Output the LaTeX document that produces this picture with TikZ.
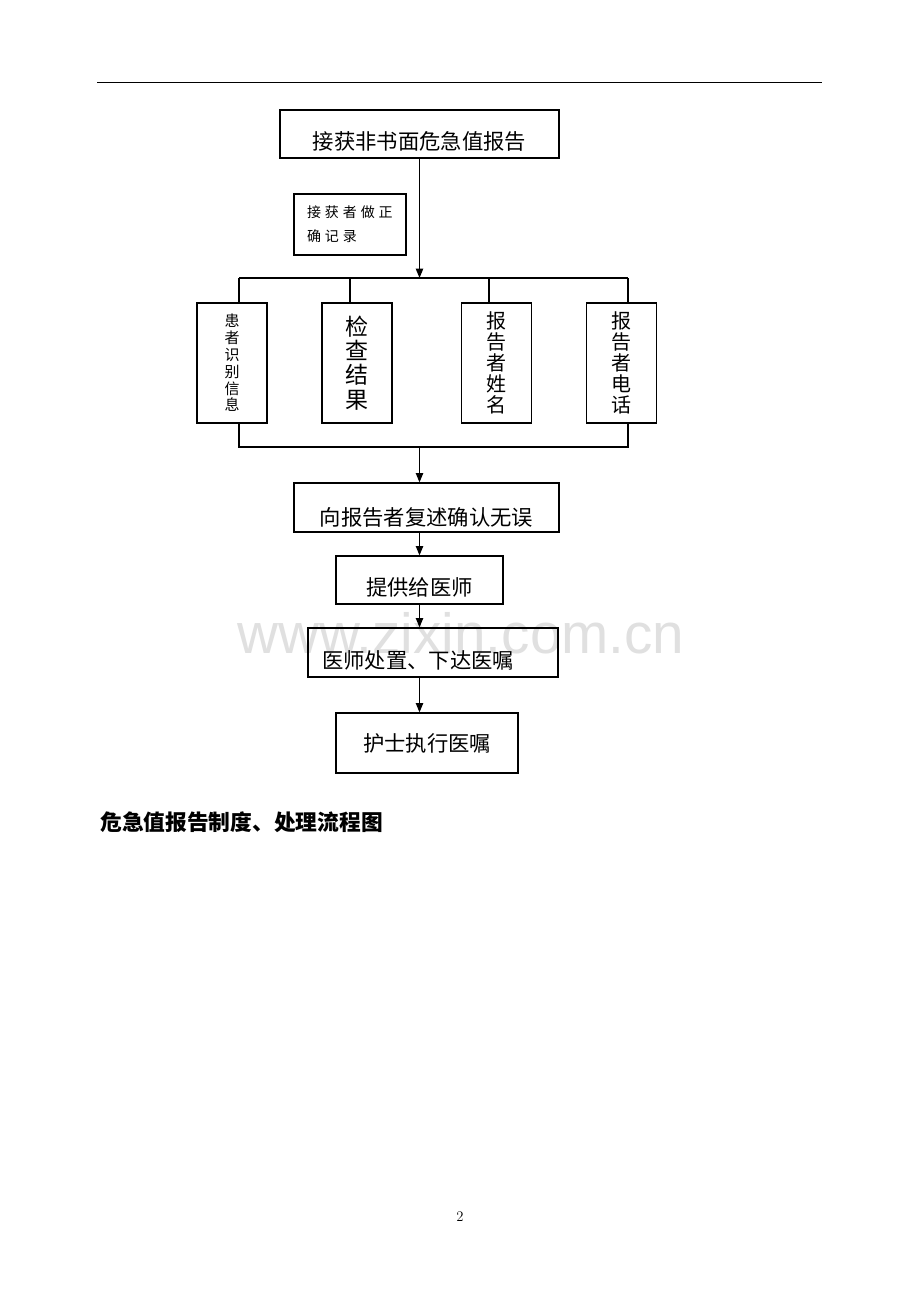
\documentclass[tikz,border=0pt]{standalone}
\usepackage{fontspec}
\usepackage{tikz}
\usetikzlibrary{positioning,arrows.meta}
\newfontfamily\cjk{Noto Sans CJK SC}
\newfontfamily\cjkwide[LetterSpace=28]{Noto Sans CJK SC}
\newfontfamily\markfont{Liberation Sans}
\newcommand{\px}{0.75pt}

\tikzset{
  box/.style={draw, line width=0.9pt, inner sep=0pt, font={\cjk\fontsize{16pt}{18pt}\selectfont}},
  lowered/.style={text height=#1, text depth=0pt},
  column/.style={draw, line width=0.9pt, inner sep=0pt, align=center, minimum width=70*\px, minimum height=120*\px},
  arrow/.style={-{Triangle[length=7pt,width=5.5pt]}, line width=0.9pt},
  link/.style={line width=0.9pt},
}

\begin{document}
\begin{tikzpicture}[x=\px,y=-\px]
  \fill[white] (0,0) rectangle (920,1302);
  \useasboundingbox (0,0) rectangle (920,1302);

  % page rule
  \draw[line width=0.75pt] (97,83) -- (822,83);

  % watermark
  \node[anchor=base west, inner sep=0pt, text=black!12, font={\markfont\fontsize{42.5pt}{42.5pt}\selectfont}] (mark) at (237,653) {www.zixin.com.cn};

  % top report
  \node[box, lowered=22.7pt, minimum width=279*\px, minimum height=48*\px] (report) at (419.5,134) {接获非书面危急值报告};

  % side note
  \node[box, align=left, text width=86*\px, inner xsep=13*\px, minimum height=61*\px,
        font={\cjkwide\fontsize{10.5pt}{18pt}\selectfont}] (record) at (350,224.5) {接获者做正\\确记录};

  % bus points
  \coordinate (split) at (419.5,278);
  \coordinate (busA) at (239,278);
  \coordinate (busB) at (350,278);
  \coordinate (busC) at (489,278);
  \coordinate (busD) at (628,278);
  \coordinate (merge) at (419.5,447);

  % four items
  \node[column, font={\cjk\fontsize{11.25pt}{12.6pt}\selectfont}] (patient) at (232,363) {患\\者\\识\\别\\信\\息};
  \node[column, font={\cjk\fontsize{17.25pt}{18.2pt}\selectfont}] (result) at (357,363) {检\\查\\结\\果};
  \node[column, font={\cjk\fontsize{15pt}{15.75pt}\selectfont}] (name) at (496.5,363) {报\\告\\者\\姓\\名};
  \node[column, font={\cjk\fontsize{15pt}{15.75pt}\selectfont}] (phone) at (621.5,363) {报\\告\\者\\电\\话};

  % lower steps
  \node[box, lowered=26.4pt, minimum width=265*\px, minimum height=49*\px] (repeat) at (426.5,507.5) {向报告者复述确认无误};
  \node[box, lowered=22.7pt, minimum width=167*\px, minimum height=48*\px] (provide) at (419.5,580) {提供给医师};
  \node[box, lowered=23.4pt, align=left, text width=222*\px, inner xsep=14*\px, minimum height=49*\px] (order) at (433,652.5) {医师处置、下达医嘱};
  \node[box, minimum width=182*\px, minimum height=60*\px] (nurse) at (427,743) {护士执行医嘱};

  % connectors
  \draw[arrow] (report.south) -- (split);
  \draw[link] (busA) -- (busD);
  \foreach \b/\t in {busA/patient,busB/result,busC/name,busD/phone} {
    \draw[link] (\b) -- (\b |- \t.north);
  }
  \draw[link] (busA |- patient.south) -- (busA |- merge) -- (busD |- merge) -- (busD |- phone.south);
  \draw[arrow] (merge) -- (merge |- repeat.north);
  \draw[arrow] (report.south |- repeat.south) -- (provide.north);
  \draw[arrow] (provide.south) -- (report.south |- order.north);
  \draw[arrow] (report.south |- order.south) -- (report.south |- nurse.north);

  % caption
  \node[anchor=west, inner sep=0pt, font={\cjk\bfseries\fontsize{16.3pt}{18pt}\selectfont}] (title) at (100,822) {危急值报告制度、处理流程图};

  % page number
  \node[inner sep=0pt, font=\fontsize{11pt}{12pt}\selectfont] (page) at (460,1217) {2};
\end{tikzpicture}
\end{document}
